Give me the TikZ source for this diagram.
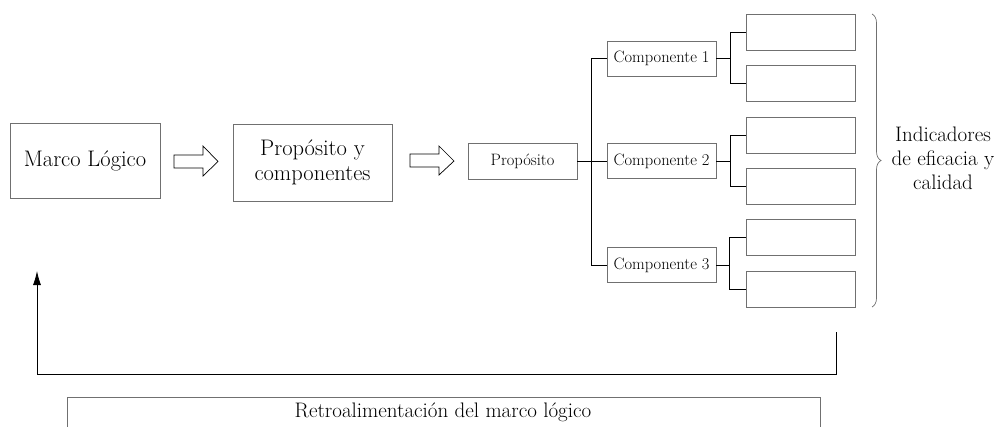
\documentclass[tikz,border=0pt]{standalone}
\usetikzlibrary{decorations.pathreplacing,arrows.meta,calc}
\definecolor{boxgray}{HTML}{707070}
\begin{document}
\begin{tikzpicture}[x=1pt,y=-1pt,
  box/.style={draw=boxgray, line width=0.9pt, inner sep=0pt, align=center},
  big/.style={font=\fontsize{22.5}{25}\selectfont},
  small/.style={font=\fontsize{16.5}{19}\selectfont},
  ind/.style={box, minimum width=109pt, minimum height=36pt},
  comp/.style={box, small, minimum width=109pt, minimum height=35pt},
  conn/.style={draw=black, line width=0.8pt},
  hollow/.style={draw=black, line width=0.7pt, fill=white}]
\useasboundingbox (0,0) rectangle (1001,426);
% main boxes
\node[box, big, minimum width=150pt, minimum height=75pt] (ML) at (85,160.5) {Marco Lógico};
\node[box, big, minimum width=159pt, minimum height=77pt] (PC) at (312.5,162.5) {Propósito y\\componentes};
\node[box, small, minimum width=109pt, minimum height=36pt] (P) at (522.5,161) {Propósito};
\node[comp] (C1) at (661.5,58.5) {Componente 1};
\node[comp] (C2) at (661.5,161) {Componente 2};
\node[comp] (C3) at (661.5,265) {Componente 3};
% indicator boxes
\node[ind] (I1) at (800.5,32) {};
\node[ind] (I2) at (800.5,83) {};
\node[ind] (I3) at (800.5,135) {};
\node[ind] (I4) at (800.5,186) {};
\node[ind] (I5) at (800.5,237) {};
\node[ind] (I6) at (800.5,289) {};
% hollow arrows
\draw[hollow] (174,155) -- (203,155) -- (203,146) -- (218,161.5) -- (203,176) -- (203,168) -- (174,168) -- cycle;
\draw[hollow] (410,154) -- (439,154) -- (439,146) -- (454,161) -- (439,175) -- (439,167) -- (410,167) -- cycle;
% tree connectors
\draw[conn] (P.east) -- (C2.west);
\draw[conn] (C1.west) -- ++(-15,0) |- (P.east);
\draw[conn] (C3.west) -- ++(-15,0) |- (P.east);
\draw[conn] (C1.east) -- ++(14,0) |- (I1.west);
\draw[conn] (C1.east) -- ++(14,0) |- (I2.west);
\draw[conn] (C2.east) -- ++(14,0) |- (I3.west);
\draw[conn] (C2.east) -- ++(14,0) |- (I4.west);
\draw[conn] (C3.east) -- ++(13,0) |- (I5.west);
\draw[conn] (C3.east) -- ++(13,0) |- (I6.west);
% brace and label
\coordinate (BT) at (872,14);
\coordinate (BB) at (872,307);
\draw[draw=boxgray, line width=0.7pt, decorate, decoration={brace, amplitude=9pt}] (BT) -- (BB);
\node[align=center, font=\fontsize{21}{24}\selectfont] (IND) at (943,158) {Indicadores\\de eficacia y\\calidad};
% feedback
\coordinate (FS) at (836,332);
\coordinate (FE) at (37,271);
\draw[conn, -{Latex[length=14pt,width=8pt]}] (FS) -- (836,374) -| (FE);
% bottom box
\node[box, minimum width=753pt, minimum height=50pt, anchor=north] (R) at (444,397) {};
\node[font=\fontsize{21}{23}\selectfont] (RT) at (443,412) {Retroalimentación del marco lógico};
\end{tikzpicture}
\end{document}
